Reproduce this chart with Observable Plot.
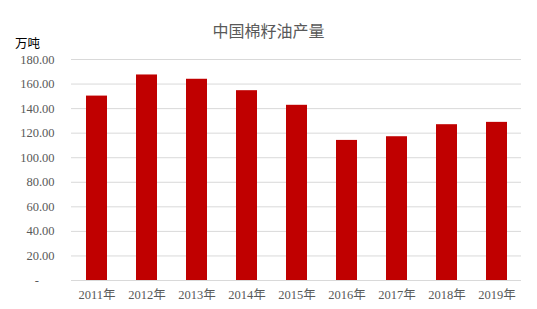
<!DOCTYPE html>
<html><head><meta charset="utf-8">
<script src="https://cdn.jsdelivr.net/npm/d3@7"></script>
<script src="https://cdn.jsdelivr.net/npm/@observablehq/plot@0.6"></script>
<style>
body{margin:0;background:#fff;}
#wrap{position:relative;width:537px;height:309px;}
#title{position:absolute;left:0;width:537px;top:18px;text-align:center;font:16px "Noto Sans CJK SC",sans-serif;color:#595959;}
#unit{position:absolute;left:15px;top:33px;font:12.5px "Noto Sans CJK SC",sans-serif;color:#000;}
#chart{position:absolute;left:0;top:0;}
</style></head>
<body>
<div id="wrap"><div id="chart"></div><div id="title">中国棉籽油产量</div><div id="unit">万吨</div></div>
<script>
const years = ["2011年","2012年","2013年","2014年","2015年","2016年","2017年","2018年","2019年"];
const output = [150.2, 167.4, 163.9, 154.6, 142.7, 114.1, 117.1, 126.9, 128.8];
const yTicks = [0,20,40,60,80,100,120,140,160,180];
const data = years.map((y,i)=>({year:y, value:output[i]}));
const chart = Plot.plot({
  width:537, height:309,
  marginTop:59, marginBottom:29, marginLeft:71, marginRight:16,
  style:{fontFamily:'"Liberation Serif","Noto Sans CJK SC",serif', fontSize:"12.5px", color:"#595959", background:"#fff"},
  x:{domain:years, paddingInner:0.59, paddingOuter:0.295, label:null, tickSize:0, tickPadding:10},
  y:{domain:[0,180], ticks:yTicks, label:null, tickSize:0, tickPadding:17,
     tickFormat:d => d===0 ? "-\u00a0\u00a0\u00a0\u00a0\u00a0" : d.toFixed(2)},
  marks:[
    Plot.gridY(yTicks.filter(d=>d>0), {stroke:"#d9d9d9", strokeOpacity:1}),
    Plot.barY(data, {x:"year", y:"value", fill:"#c00000"}),
    Plot.ruleY([0], {stroke:"#d9d9d9"})
  ]
});
document.getElementById("chart").appendChild(chart);
</script>
</body></html>
